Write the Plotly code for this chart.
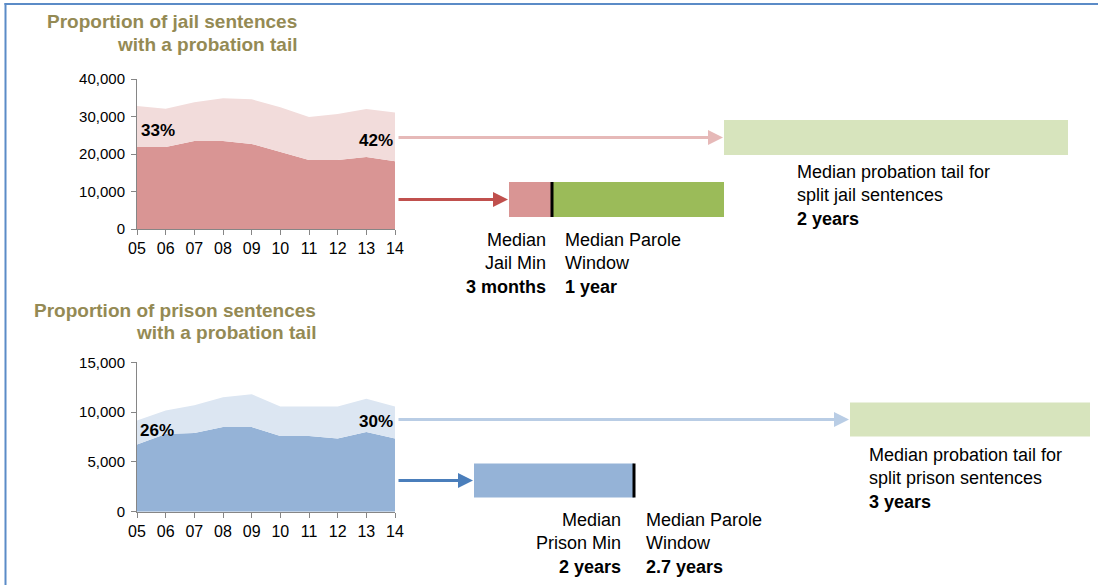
import plotly.graph_objects as go

# ---------------- data ----------------
years = [2005, 2006, 2007, 2008, 2009, 2010, 2011, 2012, 2013, 2014]
year_labels = ["05", "06", "07", "08", "09", "10", "11", "12", "13", "14"]

jail_no_tail = [21900, 21900, 23500, 23500, 22700, 20600, 18400, 18400, 19200, 18100]
jail_tail = [10900, 10200, 10300, 11400, 11900, 11900, 11500, 12300, 12800, 13000]

prison_no_tail = [6750, 7800, 7900, 8500, 8500, 7600, 7600, 7350, 8000, 7350]
prison_tail = [2400, 2350, 2800, 3000, 3300, 2950, 2950, 3200, 3350, 3200]

jail_pct_labels = ["33%", "42%"]
prison_pct_labels = ["26%", "30%"]

# durations in years
jail_min = 0.25          # 3 months
jail_parole = 1.0        # 1 year
jail_prob_tail = 2.0     # 2 years
prison_min = 2.0         # 2 years
prison_parole = 2.7      # 2.7 years
prison_prob_tail = 3.0   # 3 years

# ---------------- styling ----------------
W, H = 1098, 585
FONT = "Liberation Sans, Arial, sans-serif"
TITLE_C = "#948A54"
AXIS_C = "#868686"
BORDER_C = "#5B8BC7"


def px_x(p):
    return p / W


def px_y(p):
    return 1 - p / H


fig = go.Figure()

# ---- area charts ----
fig.add_trace(go.Scatter(x=years, y=jail_no_tail, stackgroup="jail", mode="lines",
                         line=dict(width=0), fillcolor="#D99594", xaxis="x", yaxis="y",
                         hoverinfo="x+y"))
fig.add_trace(go.Scatter(x=years, y=jail_tail, stackgroup="jail", mode="lines",
                         line=dict(width=0), fillcolor="#F2DCDB", xaxis="x", yaxis="y",
                         hoverinfo="x+y"))
fig.add_trace(go.Scatter(x=years, y=prison_no_tail, stackgroup="prison", mode="lines",
                         line=dict(width=0), fillcolor="#95B3D7", xaxis="x2", yaxis="y2",
                         hoverinfo="x+y"))
fig.add_trace(go.Scatter(x=years, y=prison_tail, stackgroup="prison", mode="lines",
                         line=dict(width=0), fillcolor="#DCE6F2", xaxis="x2", yaxis="y2",
                         hoverinfo="x+y"))

# ---- timeline bars (row 0 = sentence, row 1 = probation tail) ----
BW_J = 35 / 62
BW_P = 34 / 61
fig.add_trace(go.Bar(orientation="h", y=[0], x=[jail_min], base=[0], width=BW_J,
                     marker=dict(color="#D99594", line=dict(width=0)), xaxis="x3", yaxis="y3"))
fig.add_trace(go.Bar(orientation="h", y=[0], x=[jail_parole], base=[jail_min], width=BW_J,
                     marker=dict(color="#9BBB59", line=dict(width=0)), xaxis="x3", yaxis="y3"))
fig.add_trace(go.Bar(orientation="h", y=[1], x=[jail_prob_tail], base=[jail_min + jail_parole],
                     width=BW_J, marker=dict(color="#D7E4BD", line=dict(width=0)),
                     xaxis="x3", yaxis="y3"))
fig.add_trace(go.Bar(orientation="h", y=[0], x=[prison_min], base=[0], width=BW_P,
                     marker=dict(color="#95B3D7", line=dict(width=0)), xaxis="x4", yaxis="y4"))
fig.add_trace(go.Bar(orientation="h", y=[1], x=[prison_prob_tail], base=[prison_min + prison_parole],
                     width=BW_P, marker=dict(color="#D7E4BD", line=dict(width=0)),
                     xaxis="x4", yaxis="y4"))

# black separators at end of min sentence
shapes = [
    dict(type="line", xref="x3", yref="y3", x0=jail_min, x1=jail_min,
         y0=-BW_J / 2, y1=BW_J / 2, line=dict(color="black", width=3)),
    dict(type="line", xref="x4", yref="y4", x0=prison_min, x1=prison_min,
         y0=-BW_P / 2, y1=BW_P / 2, line=dict(color="black", width=3)),
    # frame border (top and left)
    dict(type="line", xref="paper", yref="paper", x0=px_x(4.5), x1=1, y0=px_y(4), y1=px_y(4),
         line=dict(color=BORDER_C, width=2)),
    dict(type="line", xref="paper", yref="paper", x0=px_x(5.5), x1=px_x(5.5), y0=px_y(3), y1=0,
         line=dict(color=BORDER_C, width=2)),
]

axis_common = dict(showgrid=False, zeroline=False, showline=True, linecolor=AXIS_C, linewidth=1,
                   ticks="outside", ticklen=5, tickcolor=AXIS_C, automargin=False,
                   tickfont=dict(family=FONT, size=15, color="#000"))

xa = dict(axis_common, domain=[px_x(137), px_x(395)], range=[2005, 2014],
          tickvals=years, ticktext=year_labels, tickfont=dict(family=FONT, size=16, color="#000"))

hidden = dict(visible=False, automargin=False, showgrid=False, zeroline=False, fixedrange=True)

fig.update_layout(
    width=W, height=H, margin=dict(l=0, r=0, t=0, b=0, pad=0, autoexpand=False),
    paper_bgcolor="white", plot_bgcolor="white", showlegend=False, barmode="overlay",
    xaxis=dict(xa, anchor="y"),
    yaxis=dict(axis_common, domain=[px_y(229), px_y(79)], range=[0, 40000], dtick=10000,
               tickformat=",", anchor="x", ticklabelstandoff=3),
    xaxis2=dict(xa, anchor="y2"),
    yaxis2=dict(axis_common, domain=[px_y(511.7), px_y(362.3)], range=[0, 15000], dtick=5000,
                tickformat=",", anchor="x2", ticklabelstandoff=3),
    xaxis3=dict(hidden, domain=[px_x(509), 1], range=[0, (W - 509) / 172], anchor="y3"),
    yaxis3=dict(hidden, domain=[px_y(230.5), px_y(106.5)], range=[-0.5, 1.5], anchor="x3"),
    xaxis4=dict(hidden, domain=[px_x(474), 1], range=[0, (W - 474) / 80], anchor="y4"),
    yaxis4=dict(hidden, domain=[px_y(511), px_y(389)], range=[-0.5, 1.5], anchor="x4"),
    shapes=shapes,
)

ann = []


def title(text, xr, yc):
    ann.append(dict(text=f"<b>{text}</b>", xref="paper", yref="paper", x=px_x(xr), y=px_y(yc),
                    xanchor="right", yanchor="middle", showarrow=False,
                    font=dict(family=FONT, size=19, color=TITLE_C)))


title("Proportion of jail sentences", 299, 22)
title("with a probation tail", 299, 45)
title("Proportion of prison sentences", 318, 310)
title("with a probation tail", 318, 332)


def pct(text, xp, yc, anchor):
    ann.append(dict(text=f"<b>{text}</b>", xref="paper", yref="paper", x=px_x(xp), y=px_y(yc),
                    xanchor=anchor, yanchor="middle", showarrow=False,
                    font=dict(family=FONT, size=17, color="#000")))


pct(jail_pct_labels[0], 139, 130, "left")
pct(jail_pct_labels[1], 395, 140, "right")
pct(prison_pct_labels[0], 138, 430, "left")
pct(prison_pct_labels[1], 395, 421, "right")


# arrows from area charts to timelines
def arrow(xref, yref, x, y, ax, color):
    ann.append(dict(xref=xref, yref=yref, x=x, y=y, ax=ax, ay=0, axref="pixel", ayref="pixel",
                    text="", showarrow=True, arrowhead=2, arrowsize=1, arrowwidth=3,
                    arrowcolor=color, standoff=1))


arrow("x3", "y3", jail_min + jail_parole, 1, -(724 - 397), "#E6B9B8")
arrow("x3", "y3", 0, 0, -(509 - 397), "#C0504D")
arrow("x4", "y4", prison_min + prison_parole, 1, -(850 - 397), "#B9CDE5")
arrow("x4", "y4", 0, 0, -(474 - 397), "#4A7EBB")

TXT = dict(family=FONT, size=18, color="#000")


def fmt_years(v):
    return f"{v:g} year" if v == 1 else f"{v:g} years"


ann.append(dict(xref="x3", yref="paper", x=jail_min, y=px_y(228), xanchor="right", yanchor="top",
                xshift=-4, align="right", showarrow=False, font=TXT,
                text=f"Median<br>Jail Min<br><b>{int(jail_min * 12)} months</b>"))
ann.append(dict(xref="x3", yref="paper", x=jail_min, y=px_y(228), xanchor="left", yanchor="top",
                xshift=11, align="left", showarrow=False, font=TXT,
                text=f"Median Parole<br>Window<br><b>{fmt_years(jail_parole)}</b>"))
ann.append(dict(xref="paper", yref="paper", x=px_x(795), y=px_y(160), xanchor="left", yanchor="top",
                align="left", showarrow=False, font=TXT,
                text=f"Median probation tail for<br>split jail sentences<br><b>{fmt_years(jail_prob_tail)}</b>"))

ann.append(dict(xref="x4", yref="paper", x=prison_min, y=px_y(508), xanchor="right", yanchor="top",
                xshift=-11, align="right", showarrow=False, font=TXT,
                text=f"Median<br>Prison Min<br><b>{fmt_years(prison_min)}</b>"))
ann.append(dict(xref="x4", yref="paper", x=prison_min, y=px_y(508), xanchor="left", yanchor="top",
                xshift=10, align="left", showarrow=False, font=TXT,
                text=f"Median Parole<br>Window<br><b>{fmt_years(prison_parole)}</b>"))
ann.append(dict(xref="paper", yref="paper", x=px_x(867), y=px_y(443), xanchor="left", yanchor="top",
                align="left", showarrow=False, font=TXT,
                text=f"Median probation tail for<br>split prison sentences<br><b>{fmt_years(prison_prob_tail)}</b>"))

fig.update_layout(annotations=ann)
fig.write_html("out.html", config={"displayModeBar": False},
               post_script="document.body.style.margin='0';document.body.style.overflow='hidden';")
